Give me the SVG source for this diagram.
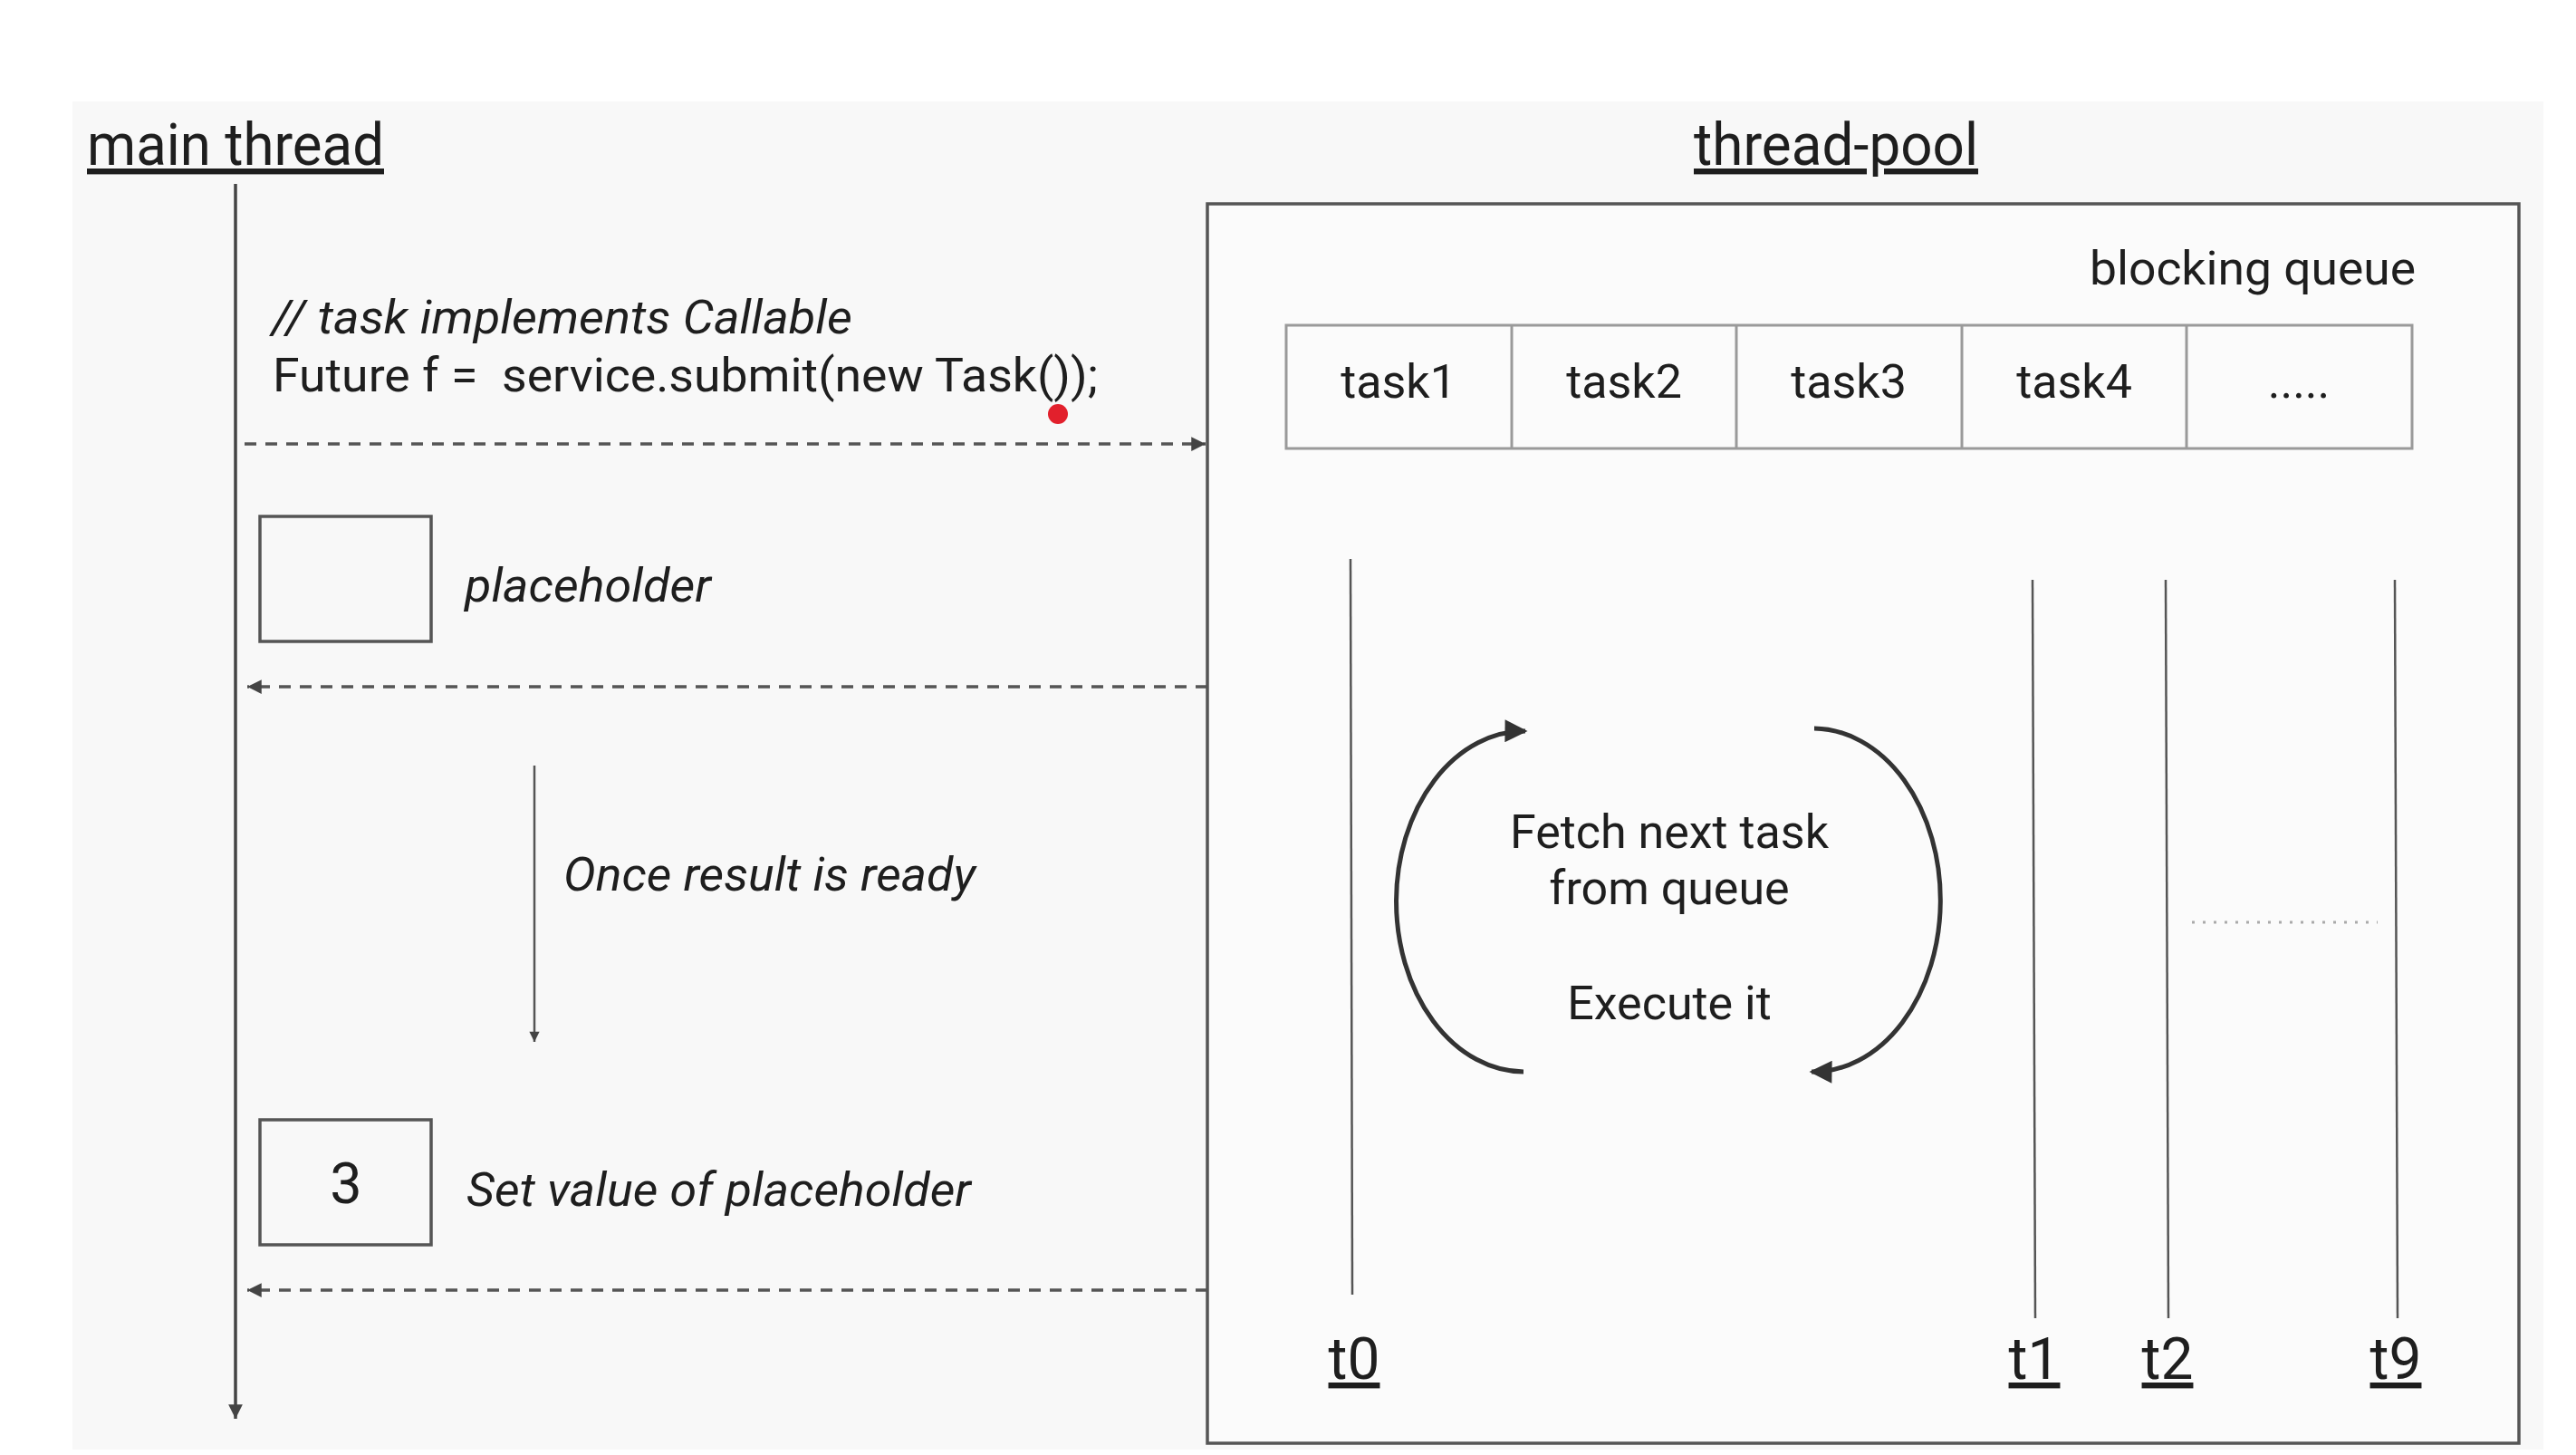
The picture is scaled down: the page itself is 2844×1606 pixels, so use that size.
<svg xmlns="http://www.w3.org/2000/svg" width="2844" height="1606" viewBox="0 0 2844 1606">
<style>
text{font-family:Roboto,"Liberation Sans",sans-serif;fill:#1e1e1e}
.h{font-size:64px;text-decoration:underline}
.it{font-style:italic;font-size:52px}
.n{font-size:52px}
.c{text-anchor:middle}
.life{stroke:#444;stroke-width:3.5;fill:none}
.thr{stroke:#555;stroke-width:2.5;fill:none}
.dash{stroke:#555;stroke-width:3.5;stroke-dasharray:13 10;fill:none}
.box{fill:none;stroke:#555;stroke-width:3.5}
.q{fill:none;stroke:#9a9a9a;stroke-width:3}
.loop{stroke:#333;stroke-width:5;fill:none}
</style>
<defs>
<marker id="ah" viewBox="0 0 10 10" refX="10" refY="5" markerWidth="6" markerHeight="4.5" markerUnits="strokeWidth" orient="auto"><path d="M0,0 L10,5 L0,10 z" fill="#444"/></marker>
<marker id="ah2" viewBox="0 0 10 10" refX="9" refY="5" markerWidth="6" markerHeight="5" markerUnits="strokeWidth" orient="auto"><path d="M0,0 L10,5 L0,10 z" fill="#333"/></marker>
</defs>
<rect x="0" y="0" width="2844" height="1606" fill="#ffffff"/>
<rect x="80" y="112" width="2728" height="1488" fill="#f8f8f8"/>

<g id="main-thread">
<text class="h" x="96" y="182" textLength="328" lengthAdjust="spacingAndGlyphs">main thread</text>
<line class="life" x1="260" y1="203" x2="260" y2="1566" marker-end="url(#ah)"/>
</g>

<g id="submit-code">
<text class="it" x="300" y="368" textLength="641" lengthAdjust="spacingAndGlyphs">// task implements Callable</text>
<text class="n" x="301" y="432" style="white-space:pre" textLength="911" lengthAdjust="spacingAndGlyphs">Future f =  service.submit(new Task());</text>
<circle cx="1168" cy="457" r="11" fill="#e2202c"/>
</g>

<g id="placeholder">
<rect class="box" x="287" y="570" width="189" height="138"/>
<text class="it" x="513" y="664" textLength="272" lengthAdjust="spacingAndGlyphs">placeholder</text>
</g>

<g id="once-ready">
<line class="thr" x1="590" y1="845" x2="590" y2="1150" marker-end="url(#ah)"/>
<text class="it" x="622" y="983" textLength="455" lengthAdjust="spacingAndGlyphs">Once result is ready</text>
</g>

<g id="set-value">
<rect class="box" x="287" y="1236" width="189" height="138"/>
<text class="c" x="382" y="1328" font-size="63">3</text>
<text class="it" x="515" y="1331" textLength="557" lengthAdjust="spacingAndGlyphs">Set value of placeholder</text>
</g>

<g id="thread-pool">
<text class="h" x="1870" y="182" textLength="314" lengthAdjust="spacingAndGlyphs">thread-pool</text>
<rect x="1333" y="225" width="1448" height="1368" fill="#fbfbfb" stroke="#555" stroke-width="3.5"/>
</g>

<g id="blocking-queue">
<text class="n" x="2307" y="314" textLength="360" lengthAdjust="spacingAndGlyphs">blocking queue</text>
<rect class="q" x="1420" y="359" width="1243" height="136"/>
<line class="q" x1="1669" y1="359" x2="1669" y2="495"/>
<line class="q" x1="1917" y1="359" x2="1917" y2="495"/>
<line class="q" x1="2166" y1="359" x2="2166" y2="495"/>
<line class="q" x1="2414" y1="359" x2="2414" y2="495"/>
<text class="n c" x="1544" y="439">task1</text>
<text class="n c" x="1793" y="439">task2</text>
<text class="n c" x="2041" y="439">task3</text>
<text class="n c" x="2290" y="439">task4</text>
<text class="n c" x="2538" y="439">.....</text>
</g>

<g id="t0">
<line class="thr" x1="1491" y1="617" x2="1493" y2="1429"/>
<text class="h c" x="1495" y="1522">t0</text>
</g>
<g id="t1">
<line class="thr" x1="2244" y1="640" x2="2247" y2="1455"/>
<text class="h c" x="2246" y="1522">t1</text>
</g>
<g id="t2">
<line class="thr" x1="2391" y1="640" x2="2394" y2="1455"/>
<text class="h c" x="2393" y="1522">t2</text>
</g>
<g id="t9">
<line class="thr" x1="2644" y1="640" x2="2647" y2="1455"/>
<text class="h c" x="2645" y="1522">t9</text>
</g>
<line x1="2420" y1="1018" x2="2625" y2="1018" stroke="#aaa" stroke-width="3" stroke-dasharray="3 9"/>

<g id="worker-loop">
<path class="loop" d="M1682,1183 A140,186 0 0 1 1684,807" marker-end="url(#ah2)"/>
<path class="loop" d="M2003,804 A139,187 0 0 1 2000,1183" marker-end="url(#ah2)"/>
<text class="n c" x="1843" y="936">Fetch next task</text>
<text class="n c" x="1843" y="998">from queue</text>
<text class="n c" x="1843" y="1125">Execute it</text>
</g>

<g id="connectors">
<line class="dash" x1="270" y1="490" x2="1331" y2="490" marker-end="url(#ah)"/>
<line class="dash" x1="1333" y1="758" x2="273" y2="758" marker-end="url(#ah)"/>
<line class="dash" x1="1333" y1="1424" x2="273" y2="1424" marker-end="url(#ah)"/>
</g>
</svg>
